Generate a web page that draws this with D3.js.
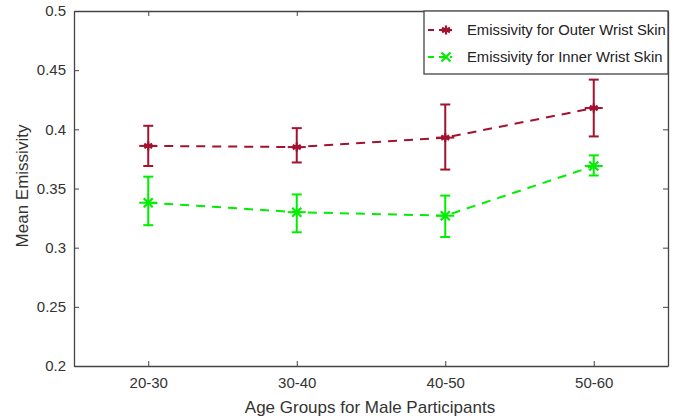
<!DOCTYPE html>
<html><head><meta charset="utf-8">
<script src="https://cdn.jsdelivr.net/npm/d3@7"></script>
<style>body{margin:0;background:#fff}svg{display:block}text{font-family:"Liberation Sans",Arial,sans-serif}</style>
</head><body>
<svg id="c" width="690" height="418"></svg>
<script>
const categories = ["20-30","30-40","40-50","50-60"];
const outerMean = [0.386, 0.385, 0.393, 0.418];
const outerLow  = [0.369, 0.372, 0.366, 0.394];
const outerHigh = [0.403, 0.401, 0.421, 0.442];
const innerMean = [0.338, 0.330, 0.327, 0.369];
const innerLow  = [0.319, 0.313, 0.309, 0.361];
const innerHigh = [0.360, 0.345, 0.344, 0.378];
const yTicks = [0.2, 0.25, 0.3, 0.35, 0.4, 0.45, 0.5];
const seriesNames = ["Emissivity for Outer Wrist Skin", "Emissivity for Inner Wrist Skin"];

const svg = d3.select("#c");
const L = 74, R = 668, T = 11, B = 366;
const x = d3.scaleLinear().domain([0.5, 4.5]).range([L, R]);
const y = d3.scaleLinear().domain([0.2, 0.5]).range([B, T]);
const axisCol = "#444";

const gB = svg.append("g").attr("transform", `translate(0,${B})`)
  .call(d3.axisBottom(x).tickValues([1,2,3,4]).tickFormat((d,i)=>categories[i]).tickSizeInner(-5).tickSizeOuter(0).tickPadding(11));
const gT = svg.append("g").attr("transform", `translate(0,${T})`)
  .call(d3.axisTop(x).tickValues([1,2,3,4]).tickFormat("").tickSizeInner(-5).tickSizeOuter(0));
const gL = svg.append("g").attr("transform", `translate(${L},0)`)
  .call(d3.axisLeft(y).tickValues(yTicks).tickFormat(d=>String(+d.toFixed(2))).tickSizeInner(-5).tickSizeOuter(0).tickPadding(8));
const gR = svg.append("g").attr("transform", `translate(${R},0)`)
  .call(d3.axisRight(y).tickValues(yTicks).tickFormat("").tickSizeInner(-5).tickSizeOuter(0));
[gB,gT,gL,gR].forEach(g=>{
  g.select(".domain").attr("stroke", axisCol).attr("stroke-width",1.3);
  g.selectAll(".tick line").attr("stroke", axisCol);
  g.selectAll(".tick text").attr("fill","#333").attr("font-size",15).attr("font-family",'"Liberation Sans",Arial,sans-serif');
});

svg.append("text").attr("x", 370).attr("y", 413).attr("text-anchor","middle")
  .attr("font-size",17).attr("fill","#333").text("Age Groups for Male Participants");
svg.append("text").attr("transform", `translate(28,${186}) rotate(-90)`).attr("text-anchor","middle")
  .attr("font-size",17).attr("fill","#333").text("Mean Emissivity");

function asterisk(g, cx, cy, col, s) {
  const p = d3.path();
  for (let k=0;k<3;k++){ const a = Math.PI/2 + k*Math.PI/3; p.moveTo(cx+s*Math.cos(a), cy+s*Math.sin(a)); p.lineTo(cx-s*Math.cos(a), cy-s*Math.sin(a)); }
  p.moveTo(cx-s,cy); p.lineTo(cx+s,cy);
  g.append("path").attr("d", p.toString()).attr("stroke", col).attr("stroke-width",2.2).attr("fill","none");
}
function cross(g, cx, cy, col, s) {
  const p = d3.path();
  p.moveTo(cx-s,cy-s); p.lineTo(cx+s,cy+s); p.moveTo(cx-s,cy+s); p.lineTo(cx+s,cy-s);
  g.append("path").attr("d", p.toString()).attr("stroke", col).attr("stroke-width",2.2).attr("fill","none");
}

const series = [
  {mean: outerMean, lo: outerLow, hi: outerHigh, col: "#a3122f", marker: asterisk},
  {mean: innerMean, lo: innerLow, hi: innerHigh, col: "#00ee00", marker: cross}
];
series.forEach(s=>{
  const g = svg.append("g");
  g.append("path").datum(s.mean)
    .attr("d", d3.line().x((d,i)=>x(i+1)).y(d=>y(d)))
    .attr("fill","none").attr("stroke", s.col).attr("stroke-width",2).attr("stroke-dasharray","9,7");
  s.mean.forEach((m,i)=>{
    const cx = x(i+1);
    g.append("line").attr("x1",cx).attr("x2",cx).attr("y1",y(s.lo[i])).attr("y2",y(s.hi[i])).attr("stroke",s.col).attr("stroke-width",2);
    [s.lo[i], s.hi[i]].forEach(v=>g.append("line").attr("x1",cx-5).attr("x2",cx+5).attr("y1",y(v)).attr("y2",y(v)).attr("stroke",s.col).attr("stroke-width",2));
    g.append("line").attr("x1",cx-9).attr("x2",cx+9).attr("y1",y(m)).attr("y2",y(m)).attr("stroke",s.col).attr("stroke-width",2);
    s.marker(g, cx, y(m), s.col, 4.5);
  });
});

const lg = svg.append("g");
lg.append("rect").attr("x",424).attr("y",T).attr("width",R-424).attr("height",63)
  .attr("fill","#fff").attr("stroke",axisCol).attr("stroke-width",1.3);
series.forEach((s,i)=>{
  const ly = 30 + i*27;
  lg.append("line").attr("x1",428).attr("x2",452).attr("y1",ly).attr("y2",ly).attr("stroke",s.col).attr("stroke-width",2).attr("stroke-dasharray","6,5");
  s.marker(lg, 446, ly, s.col, 4.5);
  lg.append("text").attr("x",467).attr("y",ly+5).attr("font-size",14.8).attr("fill","#222").text(seriesNames[i]);
});
</script>
</body></html>
